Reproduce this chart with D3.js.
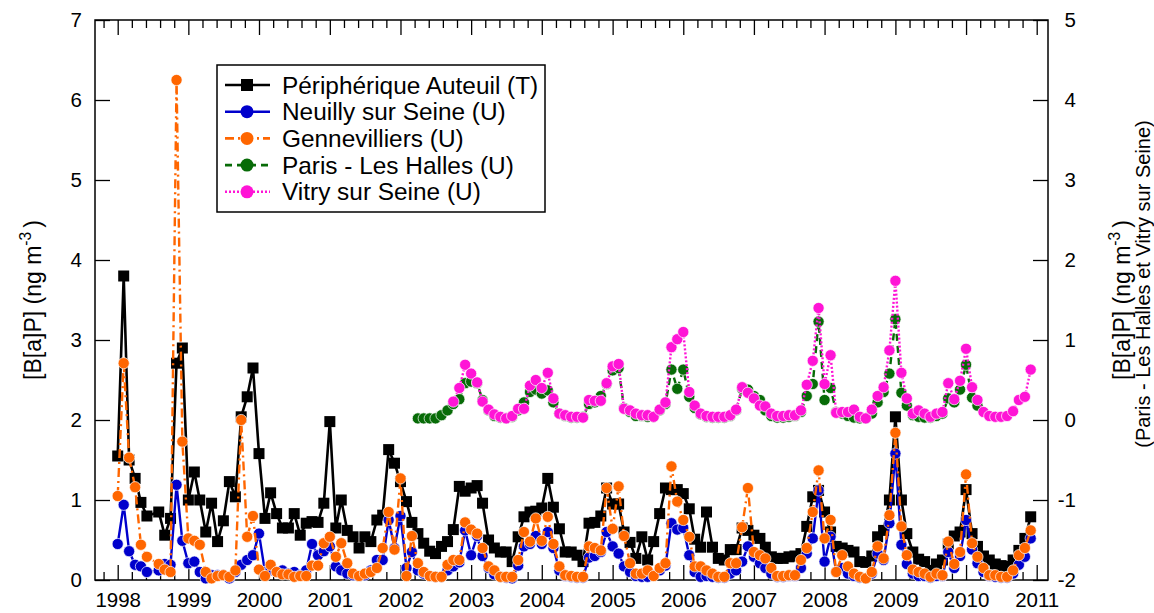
<!DOCTYPE html>
<html>
<head>
<meta charset="utf-8">
<script src="https://cdn.jsdelivr.net/npm/d3@7"></script>
<style>
  body { margin: 0; background: #fff; }
  text { font-family: 'Liberation Sans', Arial, sans-serif; }
</style>
</head>
<body>
<div id="chart"></div>
<script>
// monthly values, Jan 1998 -> Dec 2010 (ng m-3), left axis
const auteuil = [
  1.55, 3.80, 1.50, 1.27, 0.97, 0.80, null, 0.85, 0.56, 0.77, 2.71, 2.90,
  1.00, 1.35, 1.00, 0.60, 0.96, 0.48, 0.74, 1.23, 1.04, 2.04, 2.29, 2.65,
  1.58, 0.77, 1.09, 0.83, 0.65, 0.65, 0.83, 0.56, 0.71, 0.73, 0.72, 0.96,
  1.98, 0.65, 1.00, 0.62, 0.54, 0.40, 0.54, 0.48, 0.75, 0.81, 1.63, 1.46,
  1.23, 0.98, 0.72, 0.58, 0.46, 0.36, 0.33, 0.42, 0.48, 0.63, 1.17, 1.11,
  1.15, 1.18, 0.96, 0.50, 0.40, 0.35, 0.35, 0.23, 0.54, 0.79, 0.85, 0.86,
  0.90, 1.27, 0.91, 0.64, 0.35, 0.35, 0.31, 0.23, 0.71, 0.72, 0.80, 1.15,
  0.95, 0.95, 0.60, 0.47, 0.27, 0.54, 0.25, 0.48, 0.83, 1.15, 1.13, 1.13,
  1.08, 0.89, 0.51, 0.41, 0.85, 0.41, 0.27, 0.25, 0.38, 0.38, 0.65, 0.62,
  0.56, 0.52, 0.41, 0.29, 0.27, 0.27, 0.29, 0.30, 0.33, 0.67, 1.04, 1.12,
  0.85, 0.60, 0.42, 0.40, 0.37, 0.35, 0.23, 0.22, 0.30, 0.54, 0.62, 1.00,
  2.04, 1.00, 0.58, 0.35, 0.26, 0.23, 0.12, 0.20, 0.25, 0.45, 0.55, 0.60,
  1.13, 0.58, 0.42, 0.30, 0.25, 0.20, 0.18, 0.17, 0.25, 0.37, 0.52, 0.79
];
const neuilly = [
  0.45, 0.94, 0.36, 0.19, 0.17, 0.10, null, 0.12, 0.20, 0.19, 1.19, 0.49,
  0.21, 0.23, 0.10, 0.02, 0.06, 0.06, 0.06, 0.02, 0.10, 0.19, 0.25, 0.31,
  0.58, 0.10, 0.12, 0.10, 0.12, 0.08, 0.10, 0.06, 0.12, 0.45, 0.31, 0.36,
  0.42, 0.17, 0.12, 0.08, 0.06, 0.05, 0.06, 0.12, 0.25, 0.25, 0.75, 0.40,
  0.80, 0.15, 0.35, 0.12, 0.08, 0.05, 0.04, 0.04, 0.12, 0.17, 0.22, 0.62,
  0.31, 0.55, 0.30, 0.15, 0.07, 0.04, 0.03, 0.02, 0.18, 0.42, 0.45, 0.55,
  0.45, 0.60, 0.40, 0.12, 0.05, 0.04, 0.03, 0.03, 0.28, 0.30, 0.35, 0.60,
  0.42, 0.33, 0.17, 0.10, 0.05, 0.04, 0.04, 0.06, 0.12, 0.18, 0.71, 0.63,
  0.65, 0.31, 0.10, 0.04, 0.05, 0.04, 0.03, 0.03, 0.08, 0.12, 0.23, 0.42,
  0.29, 0.21, 0.15, 0.08, 0.04, 0.04, 0.05, 0.05, 0.15, 0.33, 0.52, 1.12,
  0.23, 0.54, 0.10, 0.15, 0.08, 0.05, 0.03, 0.02, 0.08, 0.33, 0.25, 0.71,
  1.58, 0.44, 0.20, 0.08, 0.05, 0.05, 0.03, 0.05, 0.05, 0.35, 0.15, 0.30,
  0.75, 0.38, 0.21, 0.10, 0.05, 0.04, 0.03, 0.03, 0.08, 0.19, 0.29, 0.52
];
const gennevilliers = [
  1.05, 2.71, 1.53, 1.16, 0.44, 0.29, null, 0.20, 0.13, 0.10, 6.25, 1.73,
  0.52, 0.49, 0.44, 0.10, 0.02, 0.05, 0.06, 0.04, 0.12, 2.00, 0.54, 0.80,
  0.13, 0.05, 0.19, 0.10, 0.07, 0.07, 0.04, 0.05, 0.05, 0.18, 0.18, 0.46,
  0.54, 0.29, 0.46, 0.21, 0.08, 0.05, 0.08, 0.10, 0.15, 0.40, 0.85, 0.38,
  1.27, 0.05, 0.55, 0.21, 0.10, 0.05, 0.04, 0.04, 0.19, 0.25, 0.25, 0.72,
  0.63, 0.58, 0.40, 0.17, 0.12, 0.04, 0.04, 0.04, 0.25, 0.60, 0.48, 0.77,
  0.49, 0.79, 0.45, 0.17, 0.06, 0.05, 0.04, 0.04, 0.42, 0.40, 0.37, 1.15,
  0.64, 1.17, 0.55, 0.21, 0.08, 0.08, 0.12, 0.05, 0.15, 0.21, 1.42, 0.98,
  0.75, 0.54, 0.17, 0.17, 0.12, 0.08, 0.04, 0.04, 0.21, 0.21, 0.66, 1.15,
  0.35, 0.31, 0.27, 0.15, 0.05, 0.05, 0.06, 0.06, 0.25, 0.40, 0.85, 1.37,
  0.52, 0.75, 0.10, 0.31, 0.17, 0.08, 0.04, 0.02, 0.10, 0.42, 0.27, 0.81,
  1.84, 0.67, 0.31, 0.13, 0.10, 0.08, 0.04, 0.08, 0.06, 0.48, 0.20, 0.35,
  1.32, 0.46, 0.29, 0.15, 0.06, 0.06, 0.04, 0.04, 0.12, 0.31, 0.40, 0.62
];
// right axis series, with their first month (index from Jan 1998)
const hallesStart = 51; // Apr 2002
const halles = [
  0.02, 0.02, 0.02, 0.02, 0.06, 0.12, 0.20, 0.26, 0.46,
  0.48, 0.46, 0.25, 0.12, 0.05, 0.03, 0.02, 0.04, 0.12, 0.22, 0.35, 0.38,
  0.33, 0.37, 0.22, 0.08, 0.05, 0.03, 0.03, 0.04, 0.20, 0.22, 0.30, 0.45,
  0.62, 0.65, 0.15, 0.10, 0.05, 0.05, 0.04, 0.04, 0.12, 0.20, 0.63, 0.39,
  0.63, 0.29, 0.15, 0.07, 0.04, 0.03, 0.03, 0.03, 0.05, 0.12, 0.39, 0.38,
  0.30, 0.25, 0.12, 0.05, 0.03, 0.03, 0.04, 0.05, 0.10, 0.30, 0.45, 1.23,
  0.25, 0.40, 0.10, 0.08, 0.05, 0.03, 0.02, 0.02, 0.08, 0.22, 0.35, 0.58,
  1.26, 0.34, 0.18, 0.06, 0.04, 0.03, 0.03, 0.05, 0.08, 0.27, 0.22, 0.38,
  0.69, 0.28, 0.18
];
const vitryStart = 57; // Oct 2002
const vitry = [
  0.23, 0.40, 0.69,
  0.58, 0.47, 0.23, 0.13, 0.07, 0.04, 0.02, 0.05, 0.14, 0.14, 0.43, 0.50,
  0.40, 0.59, 0.27, 0.08, 0.06, 0.04, 0.04, 0.03, 0.25, 0.24, 0.24, 0.46,
  0.67, 0.70, 0.14, 0.12, 0.08, 0.06, 0.06, 0.04, 0.13, 0.22, 0.91, 1.01,
  1.10, 0.35, 0.18, 0.08, 0.05, 0.04, 0.04, 0.04, 0.06, 0.13, 0.41, 0.34,
  0.27, 0.18, 0.17, 0.08, 0.05, 0.05, 0.06, 0.06, 0.12, 0.44, 0.74, 1.40,
  0.45, 0.81, 0.09, 0.10, 0.10, 0.13, 0.04, 0.02, 0.13, 0.30, 0.41, 0.87,
  1.74, 0.59, 0.27, 0.08, 0.12, 0.08, 0.04, 0.08, 0.10, 0.46, 0.26, 0.49,
  0.89, 0.41, 0.25, 0.10, 0.05, 0.04, 0.04, 0.05, 0.11, 0.25, 0.29, 0.63
];
const yearTicks = d3.range(1998, 2012);
const leftTicks = d3.range(0, 8);
const rightTicks = d3.range(-2, 6);

const width = 1154, height = 613;
const plot = {left: 95, right: 1048, top: 20, bottom: 580};

const svg = d3.select("#chart").append("svg")
    .attr("width", width).attr("height", height)
    .style("background-color", "white");

//scales: one time axis, two value axes (right = left - 2)
const x = d3.scaleTime()
    .domain([new Date(1998, 0, 1), new Date(2011, 0, 1)])
    .range([117.7, 1036.7]);
const yL = d3.scaleLinear().domain([0, 7]).range([plot.bottom, plot.top]);
const yR = d3.scaleLinear().domain([-2, 5]).range([plot.bottom, plot.top]);

const years = yearTicks.map(y => new Date(y, 0, 1));
// 5 subdivisions per year, like the original
let minor = [];
for (let yr = 1997; yr <= 2011; yr++) {
    const a = new Date(yr, 0, 1), b = new Date(yr + 1, 0, 1);
    for (let k = 1; k < 5; k++) minor.push(new Date(+a + (b - a) * k / 5));
}
minor = minor.filter(d => x(d) > plot.left + 1 && x(d) < plot.right - 1);

function styleAxis(g, fontSize) {
    g.select(".domain").remove();
    g.selectAll(".tick line").attr("stroke", "#000").attr("stroke-width", 1.3);
    g.selectAll("text").attr("fill", "#000").style("font-size", fontSize + "px")
        .style("font-family", "'Liberation Sans', Arial, sans-serif");
}

//bottom axis
svg.append("g").attr("transform", `translate(0,${plot.bottom})`)
    .call(d3.axisBottom(x).tickValues(years).tickFormat(d3.timeFormat("%Y")).tickSize(-15).tickPadding(12))
    .call(g => styleAxis(g, 20.5));
svg.append("g").attr("transform", `translate(0,${plot.bottom})`)
    .call(d3.axisBottom(x).tickValues(minor).tickFormat("").tickSize(-8))
    .call(g => styleAxis(g, 20));
//top axis (mirror ticks)
svg.append("g").attr("transform", `translate(0,${plot.top})`)
    .call(d3.axisTop(x).tickValues(years).tickFormat("").tickSize(-15))
    .call(g => styleAxis(g, 20));
svg.append("g").attr("transform", `translate(0,${plot.top})`)
    .call(d3.axisTop(x).tickValues(minor).tickFormat("").tickSize(-8))
    .call(g => styleAxis(g, 20));
//left axis
svg.append("g").attr("transform", `translate(${plot.left},0)`)
    .call(d3.axisLeft(yL).tickValues(leftTicks).tickFormat(d => String(d)).tickSize(-15).tickPadding(13))
    .call(g => styleAxis(g, 20.5));
//right axis, labels right aligned
svg.append("g").attr("transform", `translate(${plot.right},0)`)
    .call(d3.axisRight(yR).tickValues(rightTicks).tickFormat(d => String(d)).tickSize(-15))
    .call(g => styleAxis(g, 20.5))
    .call(g => g.selectAll("text").attr("x", 28).attr("text-anchor", "end"));

//frame
svg.append("rect")
    .attr("x", plot.left).attr("y", plot.top)
    .attr("width", plot.right - plot.left).attr("height", plot.bottom - plot.top)
    .attr("fill", "none").attr("stroke", "#000").attr("stroke-width", 1.5);

//series
const series = [
    {name: "Périphérique Auteuil (T)", values: auteuil, start: 0, y: yL, color: "#000000", dash: null, marker: "square"},
    {name: "Neuilly sur Seine (U)", values: neuilly, start: 0, y: yL, color: "#0000cc", dash: null, marker: "circle"},
    {name: "Gennevilliers (U)", values: gennevilliers, start: 0, y: yL, color: "#ff6600", dash: "9,4,2,4", marker: "circle"},
    {name: "Paris - Les Halles (U)", values: halles, start: hallesStart, y: yR, color: "#076b07", dash: "7,5", marker: "circle"},
    {name: "Vitry sur Seine (U)", values: vitry, start: vitryStart, y: yR, color: "#ff14d6", dash: "2,2", marker: "circle"}
];

series.forEach(s => {
    const pts = s.values
        .map((v, i) => ({date: new Date(1998, s.start + i, 1), v: v}))
        .filter(d => d.v != null);
    const line = d3.line().x(d => x(d.date)).y(d => s.y(d.v));
    const g = svg.append("g");
    g.append("path")
        .datum(pts)
        .attr("d", line)
        .attr("fill", "none")
        .attr("stroke", s.color)
        .attr("stroke-width", s.marker == "square" ? 2.6 : 2.4)
        .attr("stroke-dasharray", s.dash);
    if (s.marker == "square") {
        g.selectAll("rect").data(pts).enter().append("rect")
            .attr("x", d => x(d.date) - 5.5).attr("y", d => s.y(d.v) - 5.5)
            .attr("width", 11).attr("height", 11)
            .attr("fill", s.color);
    } else {
        g.selectAll("circle").data(pts).enter().append("circle")
            .attr("cx", d => x(d.date)).attr("cy", d => s.y(d.v))
            .attr("r", 5.6)
            .attr("fill", s.color)
            .attr("stroke", "#fff").attr("stroke-width", 0.7);
    }
});

//legend
const legend = svg.append("g");
legend.append("rect")
    .attr("x", 217).attr("y", 65).attr("width", 328).attr("height", 147)
    .attr("fill", "white").attr("stroke", "#000").attr("stroke-width", 1.5);
series.forEach((s, i) => {
    const ry = 85 + i * 26.7;
    legend.append("line")
        .attr("x1", 225).attr("x2", 270).attr("y1", ry).attr("y2", ry)
        .attr("stroke", s.color).attr("stroke-width", 2.6)
        .attr("stroke-dasharray", s.dash);
    if (s.marker == "square") {
        legend.append("rect").attr("x", 241).attr("y", ry - 6).attr("width", 12).attr("height", 12).attr("fill", s.color);
    } else {
        legend.append("circle").attr("cx", 247).attr("cy", ry).attr("r", 6.5).attr("fill", s.color);
    }
    legend.append("text")
        .attr("x", 282).attr("y", ry + 8.5)
        .style("font-size", "24.4px")
        .text(s.name);
});

//axis titles
function axisTitle(tx, ty, size) {
    const t = svg.append("text")
        .attr("transform", `translate(${tx},${ty}) rotate(-90)`)
        .attr("text-anchor", "middle")
        .style("font-size", size + "px");
    t.append("tspan").text("[B[a]P] (ng m");
    t.append("tspan").attr("dy", -10).style("font-size", (size * 0.68) + "px").text("-3");
    t.append("tspan").attr("dy", 10).attr("dx", 4).text(")");
    return t;
}
axisTitle(41, 300, 23);
axisTitle(1130, 300, 23);
svg.append("text")
    .attr("transform", "translate(1150,284) rotate(-90)")
    .attr("text-anchor", "middle")
    .style("font-size", "20px")
    .text("(Paris - Les Halles et Vitry sur Seine)");
</script>
</body>
</html>
